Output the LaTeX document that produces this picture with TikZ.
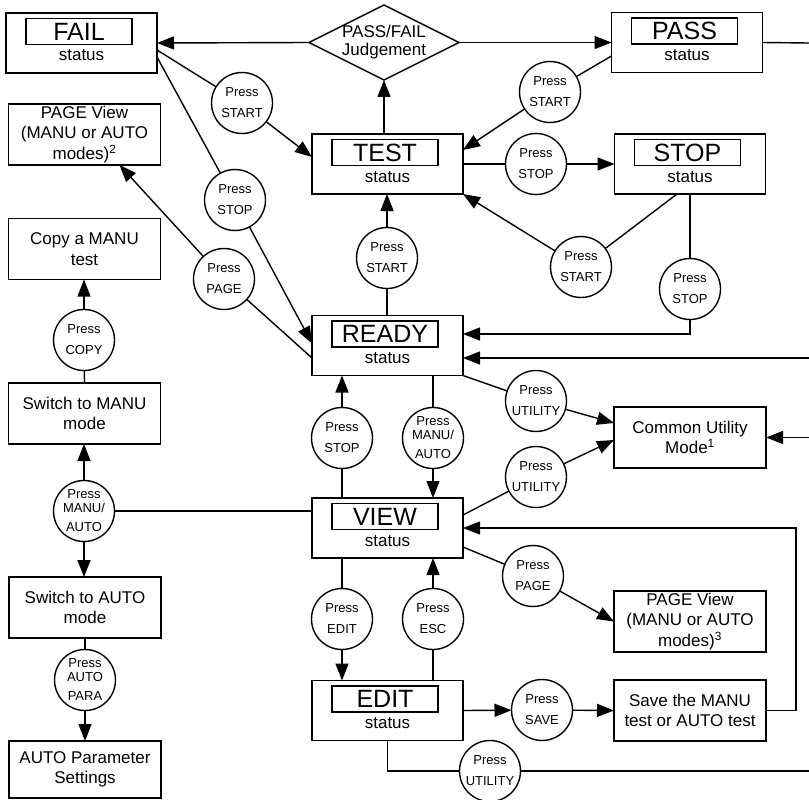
\documentclass[tikz,border=0pt]{standalone}
\usepackage{fontspec}
\setmainfont{Liberation Sans}
\usetikzlibrary{arrows.meta,shapes.geometric,calc}
\newcommand{\StatusBox}[4]{%
  \node[sbox] (#1) at (#2,#3) {};
  \node[slabel] (#1-lbl) at ($(#1)+(-2.5,-11.5)$) {#4};
  \node[stext, anchor=base] (#1-st) at ($(#1)+(0,18)$) {status};
}
\begin{document}
\begin{tikzpicture}[x=1pt,y=-1pt,
  every node/.style={inner sep=0pt, outer sep=0pt},
  line/.style={line width=1.4pt},
  arr/.style={line width=1.4pt, -{Triangle[length=17pt,width=13pt]}},
  sbox/.style={draw, line width=1.5pt, minimum width=151pt, minimum height=60pt},
  slabel/.style={draw, line width=1.5pt, minimum width=106pt, minimum height=26pt, font=\fontsize{25}{25}\selectfont},
  stext/.style={font=\fontsize{17}{20}\selectfont},
  tbox/.style={draw, line width=1.5pt, minimum width=152pt, minimum height=61pt, align=center, font=\fontsize{17}{20.5}\selectfont},
  circ/.style={draw, circle, line width=1.4pt, minimum size=61pt, align=center, font=\fontsize{13}{15}\selectfont},
  circthree/.style={circ, font=\fontsize{13}{14}\selectfont},
]
\useasboundingbox (0,0) rectangle (809,800);

% status boxes
\StatusBox{fail}{81.5}{43}{FAIL}
\StatusBox{pass}{687}{42.5}{PASS}
\StatusBox{test}{387.5}{164}{TEST}
\StatusBox{stop}{690}{164}{STOP}
\StatusBox{ready}{387.5}{345.5}{READY}
\StatusBox{view}{387.5}{528}{VIEW}
\StatusBox{edit}{387.5}{710.5}{EDIT}

% judgement diamond
\node[diamond, draw, line width=1.4pt, minimum width=150pt, minimum height=75pt, inner sep=0pt] (judge) at (384,42.5) {};
\node[align=center, font=\fontsize{17}{18}\selectfont] (judgetxt) at (384,42) {PASS/FAIL\\Judgement};

% text boxes
\node[tbox] (pageL) at (84.5,134.5) {PAGE View\\(MANU or AUTO\\modes)\textsuperscript{2}};
\node[tbox] (copy) at (84.5,249) {Copy a MANU\\test};
\node[tbox] (swmanu) at (84.5,413.5) {Switch to MANU\\mode};
\node[tbox] (swauto) at (85,607.5) {Switch to AUTO\\mode};
\node[tbox, minimum height=57pt] (autopar) at (85,769.5) {AUTO Parameter\\Settings};
\node[tbox] (common) at (690,437.5) {Common Utility\\Mode\textsuperscript{1}};
\node[tbox] (pageR) at (690,621.5) {PAGE View\\(MANU or AUTO\\modes)\textsuperscript{3}};
\node[tbox] (save) at (690,710.5) {Save the MANU\\test or AUTO test};

% circles
\node[circ] (c1) at (242,103) {Press\\[6pt]START};
\node[circ] (c2) at (235,200) {Press\\[6pt]STOP};
\node[circ] (c3) at (224,279) {Press\\[6pt]PAGE};
\node[circ] (c4) at (550,92) {Press\\[6pt]START};
\node[circ] (c5) at (536,164) {Press\\[6pt]STOP};
\node[circ] (c6) at (387,258) {Press\\[6pt]START};
\node[circ] (c7) at (581,267) {Press\\[6pt]START};
\node[circ] (c8) at (690,289) {Press\\[6pt]STOP};
\node[circ] (c9) at (84,340) {Press\\[6pt]COPY};
\node[circthree] (c10) at (84,511) {Press\\MANU/\\[5pt]AUTO};
\node[circ] (c11) at (342,438) {Press\\[6pt]STOP};
\node[circthree] (c12) at (433,438) {Press\\MANU/\\[5pt]AUTO};
\node[circ] (c13) at (536,401) {Press\\[6pt]UTILITY};
\node[circ] (c14) at (536,477) {Press\\[6pt]UTILITY};
\node[circ] (c15) at (533,576) {Press\\[6pt]PAGE};
\node[circ] (c16) at (342,619) {Press\\[6pt]EDIT};
\node[circ] (c17) at (433,619) {Press\\[6pt]ESC};
\node[circ] (c18) at (542,710) {Press\\[6pt]SAVE};
\node[circthree] (c19) at (85,680) {Press\\AUTO\\[5pt]PARA};
\node[circ] (c20) at (490,771) {Press\\[6pt]UTILITY};

% free ends at the right border
\coordinate (eA) at (809,43);
\coordinate (eB) at (809,358);
\coordinate (eC) at (809,437.5);
\coordinate (eD) at (809,771);
\coordinate (rt) at (796,528);

% connectors: top
\draw[arr] (judge.west) -- (fail.east);
\draw[arr] (judge.east) -- (pass.west);
\draw[arr] (judge.south |- test.north) -- (judge.south);
\draw[line] (pass.east) -- (eA);
\draw[line] ([yshift=-7pt]fail.east) -- (c1);
\draw[arr] (c1) -- ([yshift=7pt]test.west);
\draw[line] ([yshift=-14pt]fail.east) -- (c2);
\draw[arr] (c2) -- ([yshift=2pt]ready.west);
\draw[line] ([yshift=-12.5pt]ready.west) -- (c3);
\draw[arr] (c3) -- ([xshift=35pt]pageL.south);
\draw[line] ([yshift=-13.5pt]pass.west) -- (c4);
\draw[arr] (c4) -- ([yshift=14pt]test.east);
\draw[line] (test.east) -- (c5);
\draw[arr] (c5) -- (stop.west);
\draw[line] ([xshift=-13pt]stop.south) -- (c7);
\draw[arr] (c7) -- (test.south east);
\draw[line] (stop.south) -- (c8);
\draw[arr] (c8.south) |- ([yshift=11.5pt]ready.east);
\draw[line] (c6 |- ready.north) -- (c6);
\draw[arr] (c6) -- (c6 |- test.south);
\draw[arr] (eB) -- (ready.east |- eB);

% connectors: middle
\draw[line] (ready.south east) -- (c13);
\draw[arr] (c13) -- ([yshift=14.5pt]common.west);
\draw[line] ([yshift=13pt]view.east) -- (c14);
\draw[arr] (c14) -- ([yshift=-2.5pt]common.west);
\draw[arr] (eC) -- (common.east);
\draw[line] (c12 |- ready.south) -- (c12);
\draw[arr] (c12) -- (c12 |- view.north);
\draw[line] (c11 |- view.north) -- (c11);
\draw[arr] (c11) -- (c11 |- ready.south);
\draw[line] ([yshift=-19pt]view.east) -- (c15);
\draw[arr] (c15) -- (pageR.west);

% connectors: bottom
\draw[line] (c16 |- view.south) -- (c16);
\draw[arr] (c16) -- (c16 |- edit.north);
\draw[line] (c17 |- edit.north) -- (c17);
\draw[arr] (c17) -- (c17 |- view.south);
\draw[arr] (edit.east) -- (c18);
\draw[arr] (c18) -- (save.west);
\draw[arr] (save.east) -| (rt) -- (view.east |- rt);
\draw[line] (edit.south) |- (c20);
\draw[line] (c20) -- (eD);

% connectors: left column
\draw[line] (swmanu.north) -- (c9);
\draw[arr] (c9) -- (c9 |- copy.south);
\draw[arr] (c10) -- (c10 |- swmanu.south);
\draw[arr] (c10) -- (c10 |- swauto.north);
\draw[line] (c10.east) -- (view.west |- c10.east);
\draw[line] (swauto.south -| c19) -- (c19);
\draw[arr] (c19) -- (c19 |- autopar.north);
\end{tikzpicture}
\end{document}
